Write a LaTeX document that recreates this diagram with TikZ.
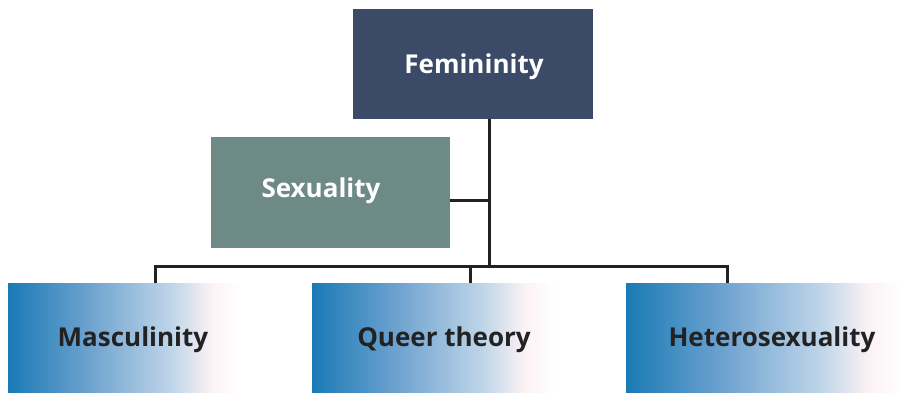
\documentclass[tikz,border=0pt]{standalone}
\usepackage{fontspec}
\setmainfont{Open Sans}
\definecolor{navy}{HTML}{3B4A66}
\definecolor{sage}{HTML}{6E8A87}
\definecolor{inkline}{HTML}{222222}
\definecolor{fadeA}{HTML}{1A7AB5}
\definecolor{fadeB}{HTML}{6FA3D0}
\definecolor{fadeC}{HTML}{C0D6E9}
\definecolor{fadeD}{HTML}{FCF2F4}
% the filled area spans the middle of the shading, 25bp to 75bp
\pgfdeclarehorizontalshading{boxfade}{100bp}{%
  color(0bp)=(fadeA); color(25bp)=(fadeA); color(42bp)=(fadeB);
  color(59bp)=(fadeC); color(67bp)=(fadeD); color(73bp)=(white);
  color(100bp)=(white)}
\begin{document}
\begin{tikzpicture}[x=1pt,y=-1pt,
  label/.style={font=\bfseries\fontsize{26}{30}\selectfont},
  link/.style={draw=inkline,line width=3pt}]
\useasboundingbox (0,0) rectangle (900,392);
% boxes
\fill[navy] (353,9) rectangle (593,119);
\node[text=white,label] (fem) at (474,67) {Femininity};
\fill[sage] (211,137) rectangle (450,248);
\node[text=white,label] (sex) at (321,191) {Sexuality};
\shade[shading=boxfade] (8,283) rectangle (250,394);
\node[label,text=inkline] (mas) at (133,340) {Masculinity};
\shade[shading=boxfade] (312,283) rectangle (565,394);
\node[label,text=inkline] (que) at (444,340) {Queer theory};
\shade[shading=boxfade] (626,283) rectangle (915,394);
\node[label,text=inkline] (het) at (772,340) {Heterosexuality};
% junction points of the connector tree
\coordinate (femb) at (489,119);
\coordinate (sexr) at (450,200);
\coordinate (sexj) at (489,200);
\coordinate (bus) at (489,266);
\coordinate (busl) at (155,266);
\coordinate (busm) at (470,266);
\coordinate (busr) at (727,266);
\coordinate (masT) at (155,283);
\coordinate (queT) at (470,283);
\coordinate (hetT) at (727,283);
\draw[link] (femb) -- (bus);
\draw[link] (sexr) -- (sexj);
\draw[link,line cap=rect] (busl) -- (busr);
\draw[link] (busl) -- (masT);
\draw[link] (busm) -- (queT);
\draw[link] (busr) -- (hetT);
\end{tikzpicture}
\end{document}
